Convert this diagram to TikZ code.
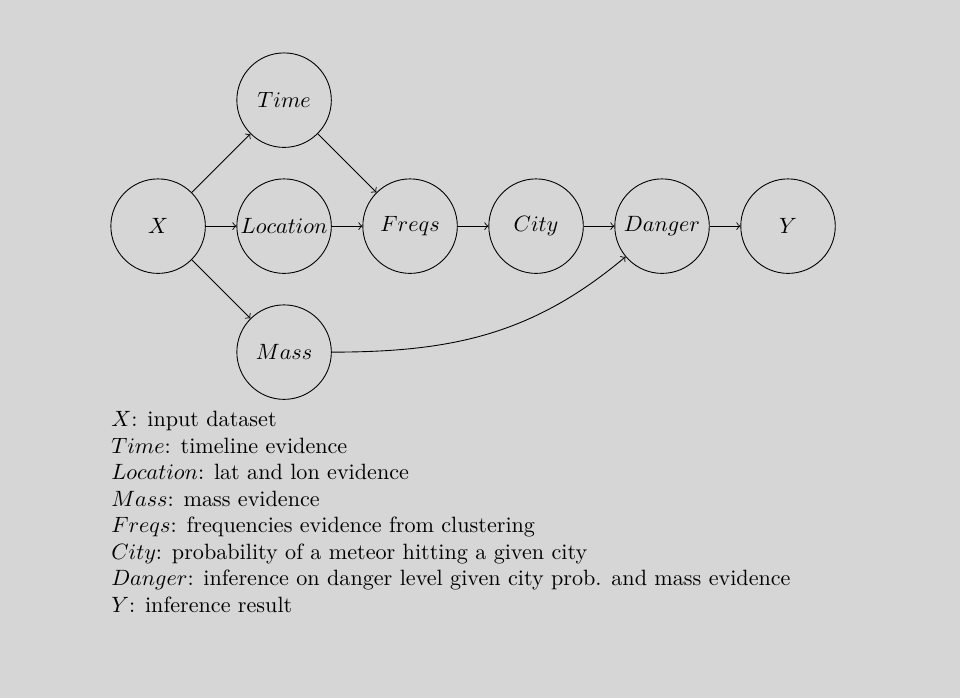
\documentclass[tikz,border=0pt]{standalone}
\usepackage{amsmath}
\usepackage{amssymb}
\usetikzlibrary{arrows,positioning,backgrounds,calc}
\definecolor{bggray}{RGB}{214,214,214}

\begin{document}
\begin{tikzpicture}[->,>=to,shorten >=0pt,auto,
   var/.style={draw, circle, minimum size=1.5cm, inner sep=0pt}]
   \fill[bggray] (-2.51,-7.49) rectangle (12.73,3.59);
   \useasboundingbox (-2.51,-7.49) rectangle (12.73,3.59);
   \node[var] (x) at (0, 0) {$X$};
   \node[var] (time) at (2, 2) {$Time$};
   \node[var] (loc) at (2, 0) {$Location$};
   \node[var] (mass) at (2, -2) {$Mass$};
   \node[var] (freqs) at (4, 0) {$Freqs$};
   \node[var] (city) at (6, 0) {$City$};
   \node[var] (danger) at (8, 0) {$Danger$};
   \node[var] (y) at (10, 0) {$Y$};
   \path (x) edge (time);
   \path (x) edge (loc);
   \path (x) edge (mass);
   \path (time) edge (freqs);
   \path (loc) edge (freqs);
   \path (freqs) edge (city);
   \path (city) edge (danger);
   \path (danger) edge (y);
   \path (mass.east) edge[out=0, in=220] (danger);
   % legend
   \node[anchor=north west, inner sep=0pt, align=left] (legend) at (-0.75, -2.93) {%
     $X$: input dataset \\
     $Time$: timeline evidence \\
     $Location$: lat and lon evidence \\
     $Mass$: mass evidence \\
     $Freqs$: frequencies evidence from clustering \\
     $City$: probability of a meteor hitting a given city \\
     $Danger$: inference on danger level given city prob. and mass evidence \\
     $Y$: inference result};
\end{tikzpicture}
\end{document}
